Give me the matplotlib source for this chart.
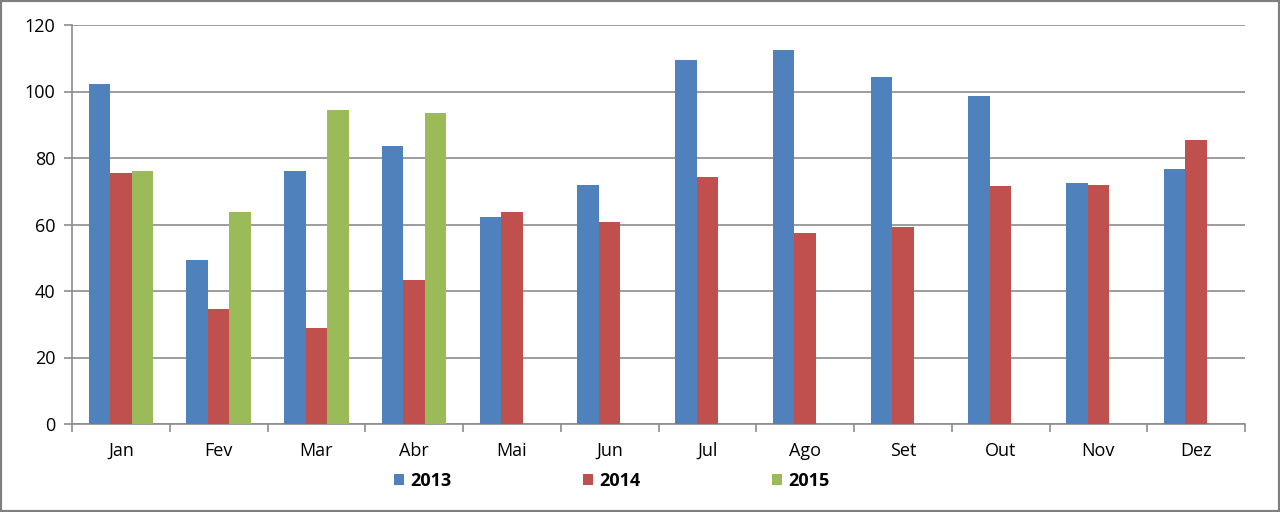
import numpy as np
import matplotlib.pyplot as plt
from matplotlib.patches import Rectangle

# Data
months = ["Jan", "Fev", "Mar", "Abr", "Mai", "Jun", "Jul", "Ago", "Set", "Out", "Nov", "Dez"]
v2013 = [102.3, 49.3, 76.1, 83.6, 62.3, 71.9, 109.5, 112.5, 104.4, 98.6, 72.5, 76.7]
v2014 = [75.5, 34.6, 28.9, 43.3, 63.8, 60.8, 74.3, 57.4, 59.2, 71.6, 71.9, 85.4]
v2015 = [76.1, 63.8, 94.4, 93.5]

colors = ["#4F81BD", "#C0504D", "#9BBB59"]
plt.rcParams['font.family'] = ['Open Sans', 'DejaVu Sans']

fig = plt.figure(figsize=(12.8, 5.12), dpi=100)
ax = fig.add_axes([72/1280, 1-424/512, (1245-72)/1280, 399/512])

x = np.arange(len(months))
w = 0.22
ax.bar(x - w, v2013, w, color=colors[0], label="2013", zorder=3)
ax.bar(x, v2014, w, color=colors[1], label="2014", zorder=3)
ax.bar(np.arange(len(v2015)) + w, v2015, w, color=colors[2], label="2015", zorder=3)

ax.set_xlim(-0.5, len(months) - 0.5)
ax.set_ylim(0, 120)
ax.set_yticks(range(0, 121, 20))
ax.yaxis.grid(True, color="#8c8c8c", linewidth=1.2, zorder=0)
ax.set_xticks(x)
ax.set_xticklabels(months)
ax.set_xticks(np.arange(-0.5, len(months)), minor=True)
ax.tick_params(axis='x', which='major', length=0, labelsize=13, pad=13)
ax.tick_params(axis='x', which='minor', length=6, color="#8c8c8c", width=1.2)
ax.tick_params(axis='y', length=6, color="#8c8c8c", width=1.2, labelsize=13, pad=6)
for s in ["top", "right"]:
    ax.spines[s].set_visible(False)
for s in ["left", "bottom"]:
    ax.spines[s].set_color("#8c8c8c")
    ax.spines[s].set_linewidth(1.2)

leg = fig.legend(loc="center", bbox_to_anchor=(612/1280, 1-481/512), ncol=3, frameon=False,
                 handlelength=0.55, handleheight=0.55, handletextpad=0.35, columnspacing=7.3,
                 prop={'weight': 'bold', 'size': 13})

fig.patches.append(Rectangle((0, 0), 1, 1, transform=fig.transFigure, fill=False,
                             edgecolor="#7f7f7f", linewidth=3))

fig.savefig("out.png", dpi=100)
